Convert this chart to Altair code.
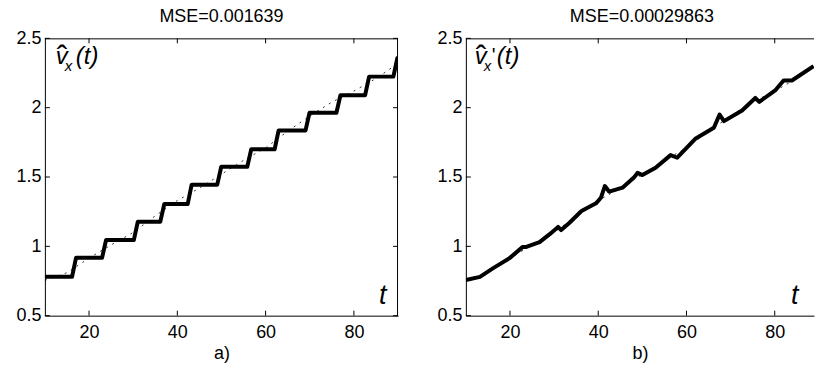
import altair as alt
import pandas as pd

# ---- data ----
t_true = [10, 15, 20, 25, 30, 35, 40, 45, 50, 55, 60, 65, 70, 75, 80, 85, 90]
v_true = [0.755, 0.81, 0.915, 1.01, 1.10, 1.22, 1.33, 1.42, 1.52, 1.62, 1.71, 1.83,
          1.94, 2.04, 2.12, 2.21, 2.32]

step_times = [16.6, 23.4, 30.6, 36.6, 42.8, 49.5, 56.3, 62.5, 69.5, 76.5, 83.0, 89.4]
step_levels = [0.78, 0.917, 1.045, 1.178, 1.305, 1.445, 1.574, 1.70, 1.836, 1.963,
               2.09, 2.224, 2.358]

b_t = [10.0, 13.2, 16.2, 19.9, 22.9, 23.7, 26.7, 29.0, 30.9, 31.6, 33.5, 36.2, 39.5,
       40.6, 41.5, 42.5, 45.5, 48.2, 48.9, 50.0, 53.0, 56.4, 57.9, 62.1, 66.2, 67.5,
       68.5, 72.6, 75.6, 76.5, 80.1, 82.0, 83.9, 88.8]
b_v = [0.757, 0.78, 0.843, 0.915, 0.996, 0.996, 1.03, 1.088, 1.14, 1.117, 1.17, 1.255,
       1.31, 1.35, 1.435, 1.394, 1.423, 1.5, 1.53, 1.514, 1.567, 1.658, 1.639, 1.778,
       1.855, 1.95, 1.903, 1.98, 2.07, 2.042, 2.124, 2.196, 2.196, 2.30]

x_ticks = [20, 40, 60, 80]
y_ticks = [0.5, 1.0, 1.5, 2.0, 2.5]
titles = ["MSE=0.001639", "MSE=0.00029863"]
sublabels = ["a)", "b)"]
ann_a = ["v", "x", "(t)"]
ann_b = ["v", "x", "'", "(t)"]
hat = "ˆ"
t_label = "t"

X_MIN, X_MAX_A, X_MAX_B = 10, 90, 88.9
Y_MIN, Y_MAX = 0.5, 2.5
W1, W2, H = 354, 349, 278
FONT = "Liberation Sans"
FS = 18

# step function polyline built from the step times/levels
half = 0.45
st_t, st_v = [X_MIN], [step_levels[0]]
for i, ts in enumerate(step_times):
    st_t += [ts - half, ts + half]
    st_v += [step_levels[i], step_levels[i + 1]]
if st_t[-1] < X_MAX_A:
    st_t.append(X_MAX_A)
    st_v.append(step_levels[-1])

df_true = pd.DataFrame({"t": t_true, "v": v_true})
df_a = pd.DataFrame({"t": st_t, "v": st_v})
df_b = pd.DataFrame({"t": b_t, "v": b_v})
df_xt = pd.DataFrame({"t": x_ticks})
df_yt = pd.DataFrame({"v": y_ticks})
one = pd.DataFrame({"k": [0]})


def text(s, x, y, size, italic=True, align="left"):
    return alt.Chart(one).mark_text(
        text=s, font=FONT, fontSize=size, fontStyle="italic" if italic else "normal",
        align=align, baseline="alphabetic", color="black"
    ).encode(x=alt.value(x), y=alt.value(y))


def panel(df_main, width, xmax, title, sub, ann, ann_x, tx, right_border, title_dx):
    xs = alt.Scale(domain=[X_MIN, xmax], nice=False, zero=False)
    ys = alt.Scale(domain=[Y_MIN, Y_MAX], nice=False, zero=False)
    base_true = alt.Chart(df_true).mark_line(
        color="black", strokeWidth=0.8, strokeDash=[2, 5], clip=True
    ).encode(
        x=alt.X("t:Q", scale=xs, axis=alt.Axis(values=x_ticks, title=sub)),
        y=alt.Y("v:Q", scale=ys, axis=alt.Axis(values=y_ticks, format="~g", title=None)),
    )
    main = alt.Chart(df_main).mark_line(
        color="black", strokeWidth=4, clip=True, strokeJoin="round"
    ).encode(x=alt.X("t:Q", scale=xs), y=alt.Y("v:Q", scale=ys))
    bt = alt.Chart(df_xt).mark_rule(color="black", strokeWidth=1).encode(
        x=alt.X("t:Q", scale=xs), y=alt.value(H), y2=alt.value(H - 5))
    tt = alt.Chart(df_xt).mark_rule(color="black", strokeWidth=1).encode(
        x=alt.X("t:Q", scale=xs), y=alt.value(0), y2=alt.value(5))
    lt = alt.Chart(df_yt).mark_rule(color="black", strokeWidth=1).encode(
        y=alt.Y("v:Q", scale=ys), x=alt.value(0), x2=alt.value(5))
    top = alt.Chart(one).mark_rule(color="black", strokeWidth=1).encode(
        x=alt.value(0), x2=alt.value(width), y=alt.value(0.5))
    layers = [base_true, main, bt, tt, lt, top]
    if right_border:
        rt = alt.Chart(df_yt).mark_rule(color="black", strokeWidth=1).encode(
            y=alt.Y("v:Q", scale=ys), x=alt.value(width - 5), x2=alt.value(width))
        rb = alt.Chart(one).mark_rule(color="black", strokeWidth=1).encode(
            x=alt.value(width - 0.5), y=alt.value(0), y2=alt.value(H))
        layers += [rt, rb]
    # annotation  v^_x(t)
    vx = ann_x
    layers.append(text(ann[0], vx, 26, 24))
    layers.append(text(hat, vx + 1, 30, 32, italic=False))
    layers.append(text(ann[1], vx + 9, 33, 15))
    if len(ann) == 4:
        layers.append(text(ann[2], vx + 17, 24, 20, italic=False))
        layers.append(text(ann[3], vx + 22, 26, 24))
    else:
        layers.append(text(ann[2], vx + 20, 26, 24))
    layers.append(text(t_label, tx, 266, 27))
    return alt.layer(*layers).properties(
        width=width, height=H,
        title=alt.TitleParams(title, font=FONT, fontSize=FS, fontWeight="normal",
                              color="black", offset=3, dx=title_dx),
    )


pa = panel(df_a, W1, X_MAX_A, titles[0], sublabels[0], ann_a, 11, 335, True, 0)
pb = panel(df_b, W2, X_MAX_B, titles[1], sublabels[1], ann_b, 9, 326, False, 2)

chart = alt.hconcat(pa, pb, spacing=68, bounds="flush").properties(
    padding={"left": 15, "top": 8, "right": 0, "bottom": 0}
).configure_view(stroke=None).configure_axis(
    labelFont=FONT, labelFontSize=FS, labelColor="black", ticks=False, grid=False,
    domainColor="black", domainWidth=1, titleFont=FONT, titleFontSize=FS,
    titleFontWeight="normal", titleColor="black", titlePadding=3,
).configure_axisX(labelPadding=8).configure_axisY(labelPadding=4)

chart.save("out.html", embed_options={"renderer": "svg", "actions": False})
